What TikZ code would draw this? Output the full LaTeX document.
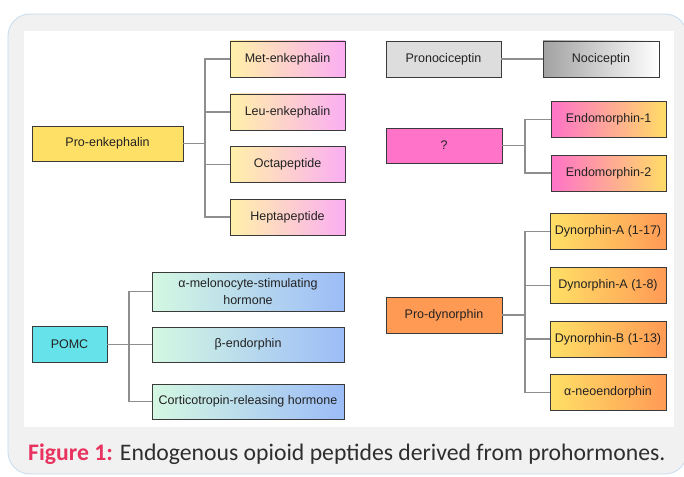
\documentclass[tikz,border=0pt]{standalone}
\usepackage{fontspec}
\setmainfont{Liberation Sans}
\newfontfamily\capfont{Carlito}
\definecolor{panelbg}{HTML}{F1F1F1}
\definecolor{panelline}{HTML}{C6DCEE}
\definecolor{boxline}{HTML}{3A3A3A}
\definecolor{conn}{HTML}{8E8E8E}
\definecolor{txt}{HTML}{222222}
\definecolor{figred}{HTML}{E8335F}
\definecolor{captxt}{HTML}{2E2E2E}
\definecolor{enkL}{HTML}{FFF1A8}
\definecolor{enkR}{HTML}{FBAEF3}
\definecolor{proenk}{HTML}{FFE066}
\definecolor{grayA}{HTML}{DDDDDD}
\definecolor{nocL}{HTML}{A2A2A2}
\definecolor{qpink}{HTML}{FF73C8}
\definecolor{endoR}{HTML}{FFDC66}
\definecolor{dynL}{HTML}{FFE066}
\definecolor{dynR}{HTML}{FF9A55}
\definecolor{pomc}{HTML}{66E2EA}
\definecolor{pomcL}{HTML}{D4F8E2}
\definecolor{pomcR}{HTML}{9CBCF7}
\tikzset{
  x=1pt, y=-1pt,
  box/.style={draw=boxline, line width=0.9pt, inner sep=0pt, align=center,
    text=txt, font=\fontsize{12.5}{17}\selectfont},
  enkbox/.style={box, minimum width=115pt, minimum height=36pt, left color=enkL, right color=enkR},
  endobox/.style={box, minimum width=115pt, minimum height=36pt, left color=qpink, right color=endoR},
  dynbox/.style={box, minimum width=116pt, minimum height=36pt, left color=dynL, right color=dynR},
  pomcbox/.style={box, minimum width=192pt, left color=pomcL, right color=pomcR},
  link/.style={draw=conn, line width=1.2pt},
}
\begin{document}
\begin{tikzpicture}
\useasboundingbox (0,0) rectangle (684,476);
\fill[white] (0,0) rectangle (684,476);
\draw[fill=panelbg, draw=panelline, line width=0.8pt, rounded corners=22pt] (8,14) rectangle (687,474);
\fill[white] (24,31) rectangle (674,427);

% Pro-enkephalin group
\node[box, fill=proenk, minimum width=151pt, minimum height=35pt] (proenk) at (107.5,143.5) {Pro-enkephalin};
\node[enkbox] (met) at (287.5,59) {Met-enkephalin};
\node[enkbox] (leu) at (287.5,112) {Leu-enkephalin};
\node[enkbox] (octa) at (287.5,164.5) {Octapeptide};
\node[enkbox] (hepta) at (287.5,217) {Heptapeptide};
\coordinate (bA) at (205,143.5);
\foreach \c in {met,leu,octa,hepta}{
  \draw[link] (proenk.east) -- (proenk.east -| bA) |- (\c.west);
}

% Nociceptin
\node[box, fill=grayA, minimum width=115pt, minimum height=36pt] (pronoc) at (443.5,59) {Pronociceptin};
\node[box, left color=nocL, right color=white, minimum width=116pt, minimum height=36pt] (noc) at (601,59) {Nociceptin};
\draw[link] (pronoc.east) -- (noc.west);

% Endomorphins
\node[box, fill=qpink, minimum width=116pt, minimum height=35pt] (q) at (444,145.5) {?};
\node[endobox] (endo1) at (608.5,119.5) {Endomorphin-1};
\node[endobox] (endo2) at (608.5,173) {Endomorphin-2};
\coordinate (bB) at (525,145.5);
\foreach \c in {endo1,endo2}{
  \draw[link] (q.east) -- (q.east -| bB) |- (\c.west);
}

% Pro-dynorphin
\node[box, fill=dynR, minimum width=116pt, minimum height=36pt] (prodyn) at (444,315) {Pro-dynorphin};
\node[dynbox] (dyn1) at (608,231.5) {Dynorphin-A (1-17)};
\node[dynbox] (dyn2) at (608,285.5) {Dynorphin-A (1-8)};
\node[dynbox] (dyn3) at (608,339) {Dynorphin-B (1-13)};
\node[dynbox] (neo) at (608,392.5) {α-neoendorphin};
\coordinate (bC) at (525,315);
\foreach \c in {dyn1,dyn2,dyn3,neo}{
  \draw[link] (prodyn.east) -- (prodyn.east -| bC) |- (\c.west);
}

% POMC
\node[box, fill=pomc, minimum width=75pt, minimum height=36pt] (pomc) at (69.5,344.5) {POMC};
\node[pomcbox, minimum height=39pt] (msh) at (248,291.5) {α-melonocyte-stimulating\\hormone};
\node[pomcbox, minimum height=35pt] (bend) at (248,344.5) {β-endorphin};
\node[pomcbox, minimum height=35pt] (crh) at (248,401.5) {Corticotropin-releasing hormone};
\coordinate (bD) at (129,344.5);
\foreach \c in {msh,bend,crh}{
  \draw[link] (pomc.east) -- (pomc.east -| bD) |- (\c.west);
}

% Caption
\node[anchor=base west, inner sep=0pt, text=captxt, font=\capfont\fontsize{23.7}{27}\selectfont] (cap) at (28,460)
  {\textcolor{figred}{\bfseries Figure 1:} Endogenous opioid peptides derived from prohormones.};
\end{tikzpicture}
\end{document}
